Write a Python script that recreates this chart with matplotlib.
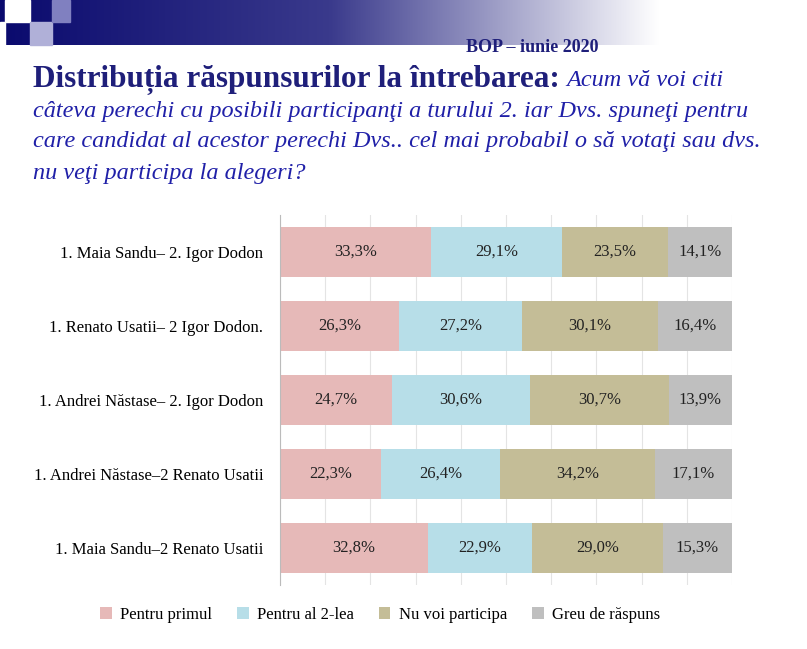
import numpy as np
import matplotlib.pyplot as plt
from matplotlib.patches import Rectangle

plt.rcParams['font.family'] = ['Liberation Serif', 'DejaVu Serif']

# data
pairs = ['1. Maia Sandu– 2. Igor Dodon',
         '1. Renato Usatii– 2 Igor Dodon.',
         '1. Andrei Năstase– 2. Igor Dodon',
         '1. Andrei Năstase–2 Renato Usatii',
         '1. Maia Sandu–2 Renato Usatii']
series = ['Pentru primul', 'Pentru al 2-lea', 'Nu voi participa', 'Greu de răspuns']
primul = [33.3, 26.3, 24.7, 22.3, 32.8]
al_doilea = [29.1, 27.2, 30.6, 26.4, 22.9]
nu_particip = [23.5, 30.1, 30.7, 34.2, 29.0]
greu = [14.1, 16.4, 13.9, 17.1, 15.3]
colors = ['#E6B9B8', '#B7DEE8', '#C4BD97', '#BFBFBF']

fig = plt.figure(figsize=(8.07, 6.49), dpi=100)

# decorative header band
band = fig.add_axes([0, 1 - 45/649, 660/807, 45/649])
grad = np.linspace(0, 1, 256).reshape(1, -1)
band.imshow(grad, aspect='auto', cmap=plt.matplotlib.colors.LinearSegmentedColormap.from_list(
    'b', ['#0A0A6E', '#3A3A8C', '#FFFFFF']), extent=[0, 1, 0, 1])
band.axis('off')
for (x, y, w, h, c) in [(5, 0, 25, 22, '#FFFFFF'), (30, 22, 22, 23, '#B0B0D8'),
                        (0, 22, 5, 23, '#FFFFFF'), (52, 0, 18, 22, '#8080C0')]:
    fig.patches.append(Rectangle((x/807, 1 - (y + h)/649), w/807, h/649,
                                 transform=fig.transFigure, color=c, zorder=3))

fig.text(598/807, 1 - 48/649, 'BOP – iunie 2020', ha='right', va='center',
         fontsize=13, fontweight='bold', color='#1F1F7A')
fig.text(33/807, 1 - 80/649, 'Distribuția răspunsurilor la întrebarea:', ha='left', va='center',
         fontsize=22.5, fontweight='bold', color='#1F1F7A')
fig.text(566/807, 1 - 80/649, 'Acum vă voi citi', ha='left', va='center',
         fontsize=17.5, style='italic', color='#2020A8')
lines = ['câteva perechi cu posibili participanţi a turului 2. iar Dvs. spuneţi pentru',
         'care candidat al acestor perechi Dvs.. cel mai probabil o să votaţi sau dvs.',
         'nu veţi participa la alegeri?']
for i, t in enumerate(lines):
    fig.text(33/807, 1 - (111 + 31*i)/649, t, ha='left', va='center',
             fontsize=17.5, style='italic', color='#2020A8')

ax = fig.add_axes([280/807, 1 - 585/649, 452/807, 370/649])
y = np.arange(len(pairs))
left = np.zeros(len(pairs))
for vals, name, c in zip([primul, al_doilea, nu_particip, greu], series, colors):
    vals = np.array(vals)
    ax.barh(y, vals, left=left, height=0.68, color=c, label=name, zorder=2)
    for yi, l, v in zip(y, left, vals):
        ax.text(l + v/2, yi, f'{v:.1f}%'.replace('.', ','), ha='center', va='center',
                fontsize=12, color='#222222', zorder=3)
    left += vals
ax.set_xlim(0, 100)
ax.set_ylim(len(pairs) - 0.5, -0.5)
ax.set_yticks(y)
ax.set_yticklabels(pairs, fontsize=12)
ax.tick_params(axis='y', length=0, pad=12)
ax.set_xticks(np.arange(0, 101, 10))
ax.tick_params(axis='x', bottom=False, labelbottom=False)
ax.grid(axis='x', color='#E4E4E4', lw=0.8, zorder=0)
for s in ['top', 'right', 'bottom']:
    ax.spines[s].set_visible(False)
ax.spines['left'].set_color('#BBBBBB')

fig.legend(loc='center', bbox_to_anchor=(380/807, 1 - 615/649), ncol=4, frameon=False,
           fontsize=12, handlelength=0.7, handleheight=0.7, columnspacing=1.5, handletextpad=0.5)

fig.savefig('out.png', dpi=100)
